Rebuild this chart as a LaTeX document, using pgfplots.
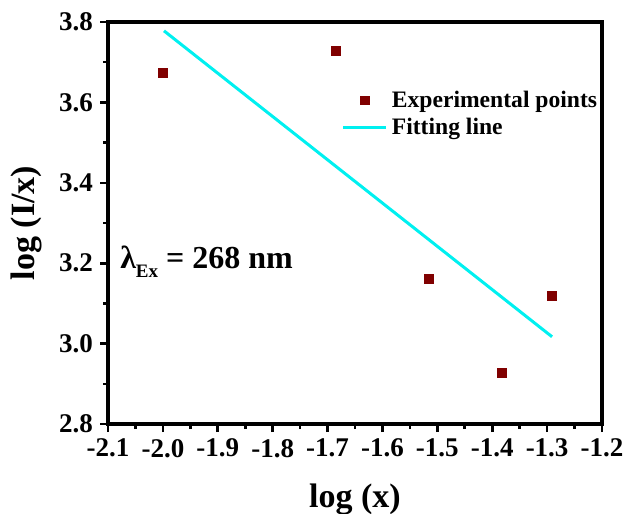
\documentclass[border=0pt]{standalone}
\usepackage{fontspec}
\setmainfont{Liberation Serif}
\usepackage{pgfplots}
\pgfplotsset{compat=1.18}
\definecolor{ptred}{HTML}{800000}
\definecolor{fitcyan}{HTML}{00F0F0}
\pgfplotsset{
    markleg/.style={legend image code/.code={\draw[#1] plot coordinates {(0.38cm,0cm)};}},
    lineleg/.style={legend image code/.code={\draw[#1] (0cm,0cm) -- (0.76cm,0cm);}},
}
\begin{document}
\begin{tikzpicture}
\begin{axis}[
    name=ax,
    scale only axis,
    width=247pt,
    height=201pt,
    xmin=-2.1, xmax=-1.2,
    ymin=2.8, ymax=3.8,
    xtick={-2.1,-2.0,...,-1.2},
    ytick={2.8,3.0,...,3.8},
    minor tick num=1,
    tick align=outside,
    xtick pos=left,
    ytick pos=left,
    major tick length=4pt,
    minor tick length=2.5pt,
    every tick/.style={line width=1.3pt, black},
    axis line style={line width=1.6pt},
    /pgf/number format/assume math mode=true,
    /pgf/number format/.cd, fixed, fixed zerofill, precision=1, /pgfplots/.cd,
    tick label style={font=\fontsize{13.5}{15}\selectfont\bfseries},
    xlabel={log (x)},
    ylabel={log (I/x)},
    label style={font=\fontsize{17}{19}\selectfont\bfseries, inner sep=0pt},
    xlabel style={at={(axis description cs:0.5,-0.187)}, anchor=center},
    ylabel style={at={(axis description cs:-0.166,0.5)}, anchor=center},
    legend style={at={(axis description cs:0.46,0.85)}, anchor=north west,
        draw=none, fill=none, font=\fontsize{11.8}{14}\selectfont\bfseries,
        row sep=0pt},
    legend cell align=left,
]
\addplot[only marks, mark=square*, mark size=2.2pt, color=ptred, markleg] coordinates {
    (-2.000,3.673) (-1.685,3.729) (-1.515,3.161) (-1.383,2.928) (-1.291,3.119)
};
\addlegendentry{Experimental points}
\addplot[fitcyan, line width=1.5pt, no marks, lineleg] coordinates {
    (-1.998,3.778) (-1.291,3.017)
};
\addlegendentry{Fitting line}
\node[anchor=west, inner sep=0pt, font=\fontsize{16}{18}\selectfont\bfseries] at (axis description cs:0.024,0.403)
    {λ\raisebox{-0.6ex}{\fontsize{9.5}{10}\selectfont Ex} = 268 nm};
\end{axis}
\pgfresetboundingbox
\path ([shift={(-54pt,-44.5pt)}]ax.south west) rectangle ([shift={(13pt,11pt)}]ax.north east);
\end{tikzpicture}
\end{document}
